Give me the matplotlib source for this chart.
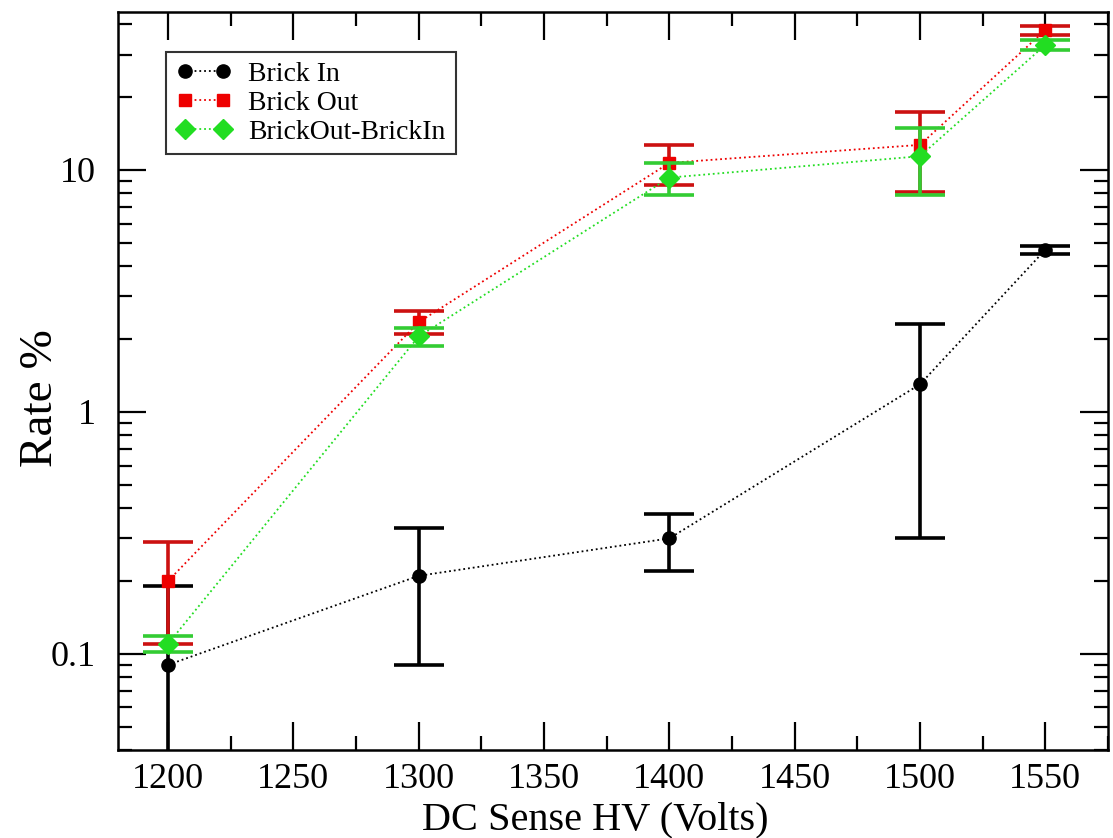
import numpy as np
import matplotlib
matplotlib.use("Agg")
import matplotlib.pyplot as plt
from matplotlib.lines import Line2D
from matplotlib.ticker import MultipleLocator, LogLocator, FuncFormatter, NullFormatter

# values
hv = [1200, 1300, 1400, 1500, 1550]

brick_in = [0.09, 0.21, 0.30, 1.30, 4.68]
brick_in_err = [0.10, 0.12, 0.08, 1.00, 0.18]

brick_out = [0.20, 2.35, 10.7, 12.7, 37.9]
brick_out_err = [0.09, 0.25, 2.0, 4.6, 1.6]

diff = [0.11, 2.05, 9.3, 11.4, 32.9]
diff_err = [0.008, 0.17, 1.4, 3.5, 1.5]

labels = ['Brick In', 'Brick Out', 'BrickOut-BrickIn']

plt.rcParams['font.family'] = ['Liberation Serif', 'DejaVu Serif']

fig = plt.figure(figsize=(11.13, 8.38), dpi=100)
ax = fig.add_axes([0.106, 0.105, 0.8895, 0.8807])

styles = [
    dict(color='black', ecolor='black', marker='o', markersize=9.5),
    dict(color='#ee0000', ecolor='#cc1111', marker='s', markersize=9),
    dict(color='#22dd22', ecolor='#33cc33', marker='D', markersize=10),
]
series = [(brick_in, brick_in_err), (brick_out, brick_out_err), (diff, diff_err)]

handles = []
for i, ((y, e), st) in enumerate(zip(series, styles)):
    ax.errorbar(hv, y, yerr=e, linestyle=':', linewidth=1.3,
                elinewidth=2.6, capsize=18, capthick=2.6, zorder=3 + i, **st)
    handles.append(Line2D([], [], color=st['color'], marker=st['marker'],
                          markersize=st['markersize'], linestyle=':', linewidth=1.3))

ax.set_yscale('log')
ax.set_xlim(1180, 1575)
ax.set_ylim(0.04, 45)

ax.xaxis.set_major_locator(MultipleLocator(50))
ax.xaxis.set_minor_locator(MultipleLocator(25))
ax.yaxis.set_major_locator(LogLocator(base=10))
ax.yaxis.set_minor_locator(LogLocator(base=10, subs=np.arange(2, 10)))
ax.yaxis.set_major_formatter(FuncFormatter(lambda v, p: '%g' % v))
ax.yaxis.set_minor_formatter(NullFormatter())

ax.tick_params(which='both', direction='in', top=True, right=True, width=1.6)
ax.tick_params(which='major', length=20, labelsize=26)
ax.tick_params(axis='x', which='major', pad=9)
ax.tick_params(axis='y', which='major', pad=16)
ax.tick_params(which='minor', length=10)
for s in ax.spines.values():
    s.set_linewidth(1.8)

ax.set_xlabel('DC Sense HV (Volts)', fontsize=29)
ax.xaxis.set_label_coords(0.482, -0.069)
ax.set_ylabel('Rate %', fontsize=34)
ax.yaxis.set_label_coords(-0.057, 0.477)

leg = ax.legend(handles, labels, loc='upper left', bbox_to_anchor=(0.049, 0.946),
                numpoints=2, handlelength=2.0, fontsize=20, frameon=True,
                fancybox=False, borderpad=0.35, labelspacing=0.12,
                handletextpad=0.6, borderaxespad=0)
leg.get_frame().set_edgecolor('black')
leg.get_frame().set_linewidth(1.5)

fig.savefig('out.png', dpi=100)
